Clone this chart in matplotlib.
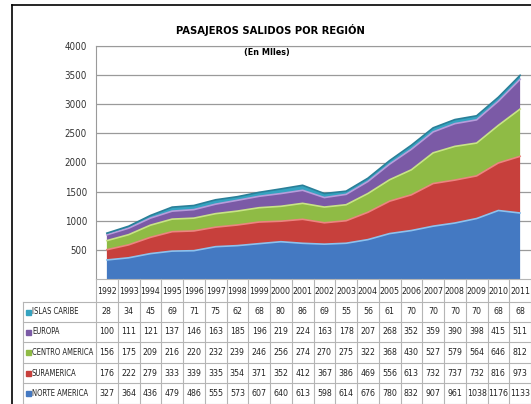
import matplotlib
matplotlib.use("Agg")
import matplotlib.pyplot as plt
import numpy as np
from matplotlib.lines import Line2D
from matplotlib.patches import Rectangle

plt.rcParams['font.family'] = ['DejaVu Sans']
plt.rcParams['font.stretch'] = 'condensed'

# Data (thousands of passengers)
years = [1992, 1993, 1994, 1995, 1996, 1997, 1998, 1999, 2000, 2001,
         2002, 2003, 2004, 2005, 2006, 2007, 2008, 2009, 2010, 2011]
norte = [327, 364, 436, 479, 486, 555, 573, 607, 640, 613, 598, 614, 676, 780, 832, 907, 961, 1038, 1176, 1133]
sur = [176, 222, 279, 333, 339, 335, 354, 371, 352, 412, 367, 386, 469, 556, 613, 732, 737, 732, 816, 973]
centro = [156, 175, 209, 216, 220, 232, 239, 246, 256, 274, 270, 275, 322, 368, 430, 527, 579, 564, 646, 812]
europa = [100, 111, 121, 137, 146, 163, 185, 196, 219, 224, 163, 178, 207, 268, 352, 359, 390, 398, 415, 511]
islas = [28, 34, 45, 69, 71, 75, 62, 68, 80, 86, 69, 55, 56, 61, 70, 70, 70, 70, 68, 68]

# stacking order bottom -> top
series = [norte, sur, centro, europa, islas]
colors = ["#4479c2", "#c7403c", "#8fbb45", "#7b5aa6", "#35a3c0"]
edges = ["#8cc2ee", "#ec8580", "#c8e486", "#b79ddb", "#2a7f98"]

W, H = 531, 404
fig = plt.figure(figsize=(W / 100, H / 100), dpi=100)

def fx(px):
    return px / W

def fy(py):
    return 1 - py / H

# outer chart border
fig.add_artist(Line2D([fx(12), fx(12)], [fy(5), 0], color="black", lw=1.2))
fig.add_artist(Line2D([fx(12), 1], [fy(5), fy(5)], color="black", lw=1.2))

left, right, top, bottom = 96, 531, 46, 279
ax = fig.add_axes([fx(left), fy(bottom), fx(right - left), fy(top) - fy(bottom)])
x = np.arange(len(years))
ax.stackplot(x, *series, colors=colors, lw=0)
cum = np.zeros(len(years))
for vals, ec in zip(series, edges):
    cum = cum + np.array(vals)
    ax.plot(x, cum, color=ec, lw=1.2, solid_joinstyle="round")

ax.set_xlim(-0.5, len(years) - 0.5)
ax.set_ylim(0, 4000)
ax.set_yticks(range(500, 4001, 500))
ax.set_xticks([])
ax.tick_params(axis="y", length=0, labelsize=7, pad=6.5, colors="#333333")
ax.yaxis.grid(True, color="#9a9a9a", lw=0.9)
ax.set_axisbelow(True)
for s in ["right", "bottom"]:
    ax.spines[s].set_visible(False)
for s in ["left", "top"]:
    ax.spines[s].set_color("#9a9a9a")

fig.text(fx(270), fy(30), "PASAJEROS SALIDOS POR REGIÓN", ha="center", va="center",
         fontsize=8, fontweight="bold")
fig.text(fx(267), fy(52), "(En MIles)", ha="center", va="center",
         fontsize=6.5, fontweight="bold")

# data table under the chart
col_w = (right - left) / len(years)
row_top = [279, 302, 322, 342, 363, 383, 404]
grid_c = "#b5b5b5"
tab_left = 23
rows = [islas, europa, centro, sur, norte]
row_names = ["ISLAS CARIBE", "EUROPA", "CENTRO AMERICA", "SURAMERICA", "NORTE AMERICA"]
row_cols = ["#35a3c0", "#7b5aa6", "#8fbb45", "#c7403c", "#4479c2"]

for i, yv in enumerate(row_top):
    x0 = left if i == 0 else tab_left
    fig.add_artist(Line2D([fx(x0), 1], [fy(yv), fy(yv)], color=grid_c, lw=0.8))
for j in range(len(years) + 1):
    xv = left + j * col_w
    fig.add_artist(Line2D([fx(xv), fx(xv)], [fy(279), 0], color=grid_c, lw=0.8))
fig.add_artist(Line2D([fx(tab_left), fx(tab_left)], [fy(302), 0], color=grid_c, lw=0.8))

for j, yr in enumerate(years):
    fig.text(fx(left + (j + 0.5) * col_w), fy(291), str(yr), ha="center", va="center",
             fontsize=6.3, color="#222222")
for i, (name, vals, c) in enumerate(zip(row_names, rows, row_cols)):
    yc = (row_top[i + 1] + row_top[i + 2]) / 2
    fig.add_artist(Rectangle((fx(26), fy(yc) - 2.5 / H), 5 / W, 5 / H, color=c))
    fig.text(fx(32), fy(yc), name, ha="left", va="center", fontsize=5.5, color="#222222")
    for j, v in enumerate(vals):
        fig.text(fx(left + (j + 0.5) * col_w), fy(yc), str(v), ha="center", va="center",
                 fontsize=6.3, color="#222222")

fig.savefig("out.png", dpi=100)
